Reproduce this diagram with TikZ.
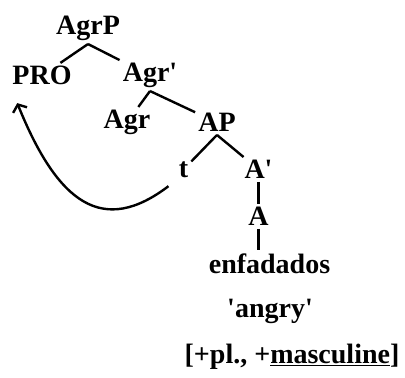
\documentclass[tikz,border=0pt]{standalone}
\usepackage{fontspec}
\usetikzlibrary{arrows.meta}

\newfontfamily\treefont{Liberation Serif}

\begin{document}
\begin{tikzpicture}
  [x=1pt, y=-1pt, level distance=47pt, line width=2.4pt,
   every node/.style={font=\treefont\bfseries\fontsize{28}{32}\selectfont, inner sep=2pt},
   parent anchor=south,
   level 1/.style={sibling distance=108pt},
   level 2/.style={sibling distance=90pt},
   level 3/.style={sibling distance=75pt}]
  \useasboundingbox (0,0) rectangle (405,378);
  \node (agrp) at (88,28.5) {AgrP}
     child [xshift=8pt] {node (pro) {PRO}}
     child [xshift=8pt] {node (agrbar) {Agr'}
       child [xshift=22pt] {node (agr) {Agr}}
       child [xshift=22pt] {node (ap) {AP}
         child [xshift=4pt] {node (t) {t}}
         child [xshift=4pt] {node (abar) {A'}
           child {node (a) {A}
             child [edge from parent path={(\tikzparentnode.south) -- (\tikzparentnode.south |- \tikzchildnode.north)}]
               {node [xshift=11pt] (enf) {enfadados}}
           }
         }
       }
     };
  % gloss and features under the word
  \node [anchor=base] (gloss) at (270,317) {'angry'};
  \node [anchor=base] (feats) at (292,363) {[+pl., +\underline{masculine}]};
  % movement of the trace up to PRO
  \draw [-{Straight Barb[length=6pt,width=15pt]}, shorten <=9pt]
    (t.south west) .. controls (103,236) and (58,204) .. ([shift={(8pt,-15pt)}]pro.south west);
\end{tikzpicture}
\end{document}
